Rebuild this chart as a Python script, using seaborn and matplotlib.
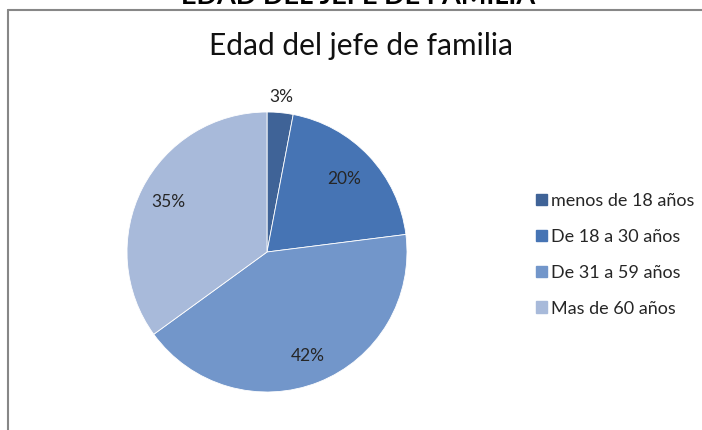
import numpy as np
import matplotlib
matplotlib.use("Agg")
import matplotlib.pyplot as plt
from matplotlib.lines import Line2D
import seaborn as sns

# data
categories = ["menos de 18 años", "De 18 a 30 años", "De 31 a 59 años", "Mas de 60 años"]
shares = [3, 20, 42, 35]
label_dist = [1.11, 0.76, 0.80, 0.79]
colors = ["#3F6397", "#4674B4", "#7296CA", "#A8BADA"]

sns.set_theme(style="white")
plt.rcParams["font.family"] = ["Lato", "DejaVu Sans"]

fig = plt.figure(figsize=(7.02, 4.30), dpi=100)
W, H = 702, 430

# pie centre ~ (267, 252) px, radius ~140 px
r = 140
ax = fig.add_axes([(267 - r) / W, 1 - (252 + r) / H, 2 * r / W, 2 * r / H])
wedges, _ = ax.pie(shares, colors=colors, startangle=90, counterclock=False,
                   wedgeprops=dict(linewidth=0.6, edgecolor="white"))
ax.set_aspect("equal")
ax.set_xlim(-1, 1)
ax.set_ylim(-1, 1)

for w, v, d in zip(wedges, shares, label_dist):
    mid = np.deg2rad((w.theta1 + w.theta2) / 2)
    ax.text(d * np.cos(mid), d * np.sin(mid), f"{v}%", ha="center", va="center",
            fontsize=12.5, color="#262626")

handles = [plt.Rectangle((0, 0), 1, 1, color=c) for c in colors]
fig.legend(handles, categories, loc="upper left", bbox_to_anchor=(536 / W, 1 - 193 / H),
           frameon=False, fontsize=13, handlelength=0.6, handleheight=0.6,
           handletextpad=0.25, labelspacing=1.1, borderpad=0, borderaxespad=0,
           labelcolor="#262626")

fig.text(361 / W, 1 - 55 / H, "Edad del jefe de familia", ha="center", va="baseline",
         fontsize=21.5, color="#111111")

# clipped heading above the chart frame
fig.text(0.51, 1 - 4 / H, "EDAD DEL JEFE DE FAMILIA", ha="center", va="baseline",
         fontsize=19.5, fontweight="bold", color="black")

# chart frame: only top and left edges visible
fig.add_artist(Line2D([8 / W, 1], [1 - 10 / H, 1 - 10 / H], transform=fig.transFigure,
                      color="#878787", lw=1.5))
fig.add_artist(Line2D([8 / W, 8 / W], [0, 1 - 10 / H], transform=fig.transFigure,
                      color="#878787", lw=1.5))

fig.savefig("out.png", dpi=100, facecolor="white")
